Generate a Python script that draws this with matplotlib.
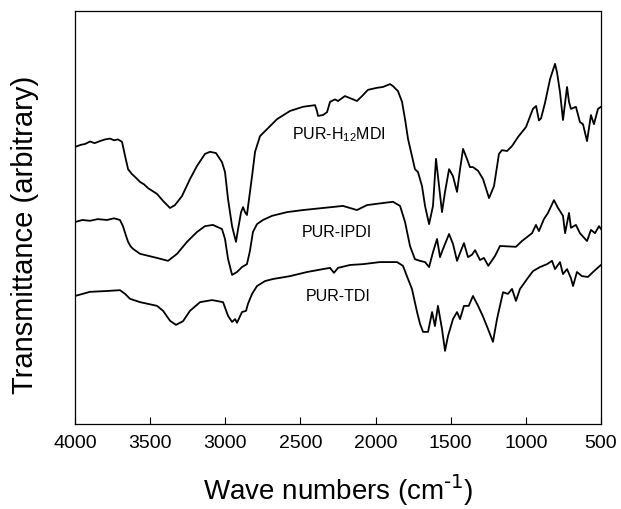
import matplotlib
matplotlib.use("Agg")
import matplotlib.pyplot as plt

plt.rcParams['font.family'] = ['Liberation Sans', 'DejaVu Sans']
plt.rcParams['mathtext.default'] = 'regular'

# PUR-H12MDI spectrum (wavenumber cm-1, transmittance arbitrary units)
h12mdi_wn = [4000, 3960, 3933, 3900, 3870, 3834, 3800, 3767, 3740, 3714, 3687, 3667, 3647, 3621,
             3600, 3567, 3540, 3514, 3454, 3414, 3368, 3335, 3288, 3235, 3188, 3135, 3102, 3062,
             3022, 3002, 2982, 2955, 2929, 2915, 2895, 2882, 2869, 2856, 2842, 2822, 2802, 2769,
             2722, 2656, 2569, 2483, 2403, 2390, 2383, 2350, 2323, 2303, 2270, 2250, 2204, 2150,
             2124, 2090, 2051, 1991, 1951, 1904, 1884, 1851, 1824, 1804, 1784, 1758, 1738, 1718,
             1691, 1671, 1644, 1618, 1598, 1585, 1558, 1538, 1511, 1485, 1458, 1438, 1418, 1392,
             1372, 1352, 1318, 1285, 1245, 1212, 1179, 1159, 1125, 1092, 1052, 999, 953, 932, 913,
             899, 873, 839, 806, 793, 773, 753, 726, 713, 700, 667, 640, 620, 593, 567, 547, 520, 500]
h12mdi_t = [67.1, 67.6, 67.8, 68.4, 68.0, 68.5, 68.9, 69.1, 68.7, 68.9, 68.3, 64.9, 61.7, 60.5,
            59.8, 58.6, 58.0, 57.1, 55.7, 54.0, 52.3, 53.0, 55.2, 59.3, 62.5, 65.4, 65.9, 65.6,
            63.4, 61.0, 54.5, 47.9, 44.1, 47.2, 51.3, 52.5, 51.3, 50.6, 54.5, 60.0, 65.9, 69.7,
            71.4, 73.8, 75.8, 76.8, 77.2, 75.8, 74.6, 74.8, 75.5, 78.0, 78.6, 78.2, 79.4, 78.6,
            78.2, 79.4, 80.9, 81.4, 81.6, 82.3, 81.8, 80.6, 78.0, 73.8, 69.0, 64.9, 61.7, 61.0,
            57.6, 52.8, 48.4, 52.8, 64.2, 60.0, 51.3, 56.2, 61.7, 60.0, 56.2, 61.7, 66.6, 64.2,
            62.2, 62.2, 61.3, 59.3, 54.7, 57.6, 65.4, 66.3, 66.1, 67.3, 69.5, 71.9, 76.3, 77.0, 73.5,
            74.0, 77.7, 83.5, 87.2, 85.2, 80.4, 73.6, 81.6, 78.0, 76.3, 76.8, 73.1, 72.6, 68.5, 74.8, 72.6, 76.3, 76.8]

# PUR-IPDI spectrum
ipdi_wn = [4000, 3950, 3900, 3850, 3787, 3740, 3701, 3681, 3660, 3647, 3630, 3614, 3567, 3454, 3381,
           3321, 3255, 3188, 3135, 3082, 3022, 3002, 2982, 2955, 2922, 2889, 2856, 2836, 2816,
           2789, 2749, 2689, 2589, 2483, 2350, 2217, 2124, 2057, 1951, 1884, 1837, 1804, 1771,
           1738, 1704, 1671, 1644, 1618, 1591, 1571, 1551, 1511, 1485, 1458, 1438, 1412, 1385,
           1358, 1338, 1305, 1279, 1250, 1205, 1172, 1066, 1026, 959, 933, 913, 880, 853, 813,
           786, 753, 739, 713, 700, 667, 640, 593, 567, 540, 513, 500]
ipdi_t = [48.9, 49.4, 49.2, 49.6, 49.4, 49.8, 49.4, 47.9, 45.5, 44.1, 43.0, 42.4, 41.2, 40.2, 39.5,
          41.2, 44.1, 46.5, 47.9, 48.2, 47.2, 44.8, 40.0, 36.1, 36.8, 38.0, 38.7, 41.9, 46.5,
          48.4, 49.4, 50.4, 51.3, 51.8, 52.3, 52.8, 51.8, 53.0, 53.5, 53.8, 52.8, 48.9, 43.1,
          39.9, 39.5, 39.2, 38.0, 41.6, 44.8, 40.4, 42.4, 46.0, 43.6, 39.5, 41.4, 43.8, 40.4,
          41.0, 42.1, 39.7, 40.2, 38.3, 40.7, 43.1, 42.9, 44.3, 46.2, 48.2, 46.7, 49.6, 51.1, 54.2,
          52.3, 50.4, 46.2, 51.1, 47.5, 48.2, 46.2, 44.3, 47.0, 46.2, 47.9, 47.2]

# PUR-TDI spectrum
tdi_wn = [4000, 3900, 3787, 3701, 3667, 3634, 3600, 3567, 3454, 3414, 3368, 3328, 3281, 3235,
          3168, 3088, 3015, 2982, 2955, 2935, 2922, 2889, 2862, 2849, 2822, 2789, 2736, 2683,
          2569, 2456, 2350, 2303, 2277, 2250, 2170, 2084, 1971, 1857, 1818, 1784, 1758, 1724,
          1704, 1684, 1651, 1624, 1605, 1585, 1558, 1538, 1518, 1485, 1458, 1438, 1412, 1380,
          1352, 1318, 1285, 1252, 1219, 1192, 1152, 1119, 1092, 1066, 1039, 992, 953, 906,
          859, 826, 806, 773, 753, 726, 700, 686, 660, 627, 587, 553, 507, 500]
tdi_t = [31.0, 32.0, 32.2, 32.4, 31.5, 30.3, 29.9, 29.5, 28.6, 27.4, 25.0, 24.0, 24.9, 27.4,
         29.5, 30.0, 29.5, 26.2, 24.7, 25.4, 24.5, 27.1, 27.4, 29.1, 31.5, 33.4, 34.6, 35.1,
         35.8, 36.8, 37.5, 37.8, 36.6, 37.8, 38.5, 38.7, 39.2, 39.2, 38.3, 35.1, 32.7, 27.1,
         24.2, 22.3, 22.3, 27.1, 23.7, 28.6, 23.0, 17.7, 21.3, 25.4, 27.1, 25.4, 28.6, 28.6,
         31.0, 28.6, 26.0, 23.0, 19.9, 25.4, 31.9, 31.5, 32.7, 29.8, 32.7, 35.1, 37.0, 38.0,
         38.7, 39.5, 37.5, 39.2, 36.3, 37.5, 35.3, 33.4, 36.8, 35.8, 35.6, 36.8, 38.3, 38.5]

labels = ["PUR-H$_{12}$MDI", "PUR-IPDI", "PUR-TDI"]
label_wn = [2243, 2257, 2250]
label_t = [70.2, 46.7, 31.0]

fig = plt.figure(figsize=(6.21, 5.10), dpi=100)
ax = fig.add_axes([0.1208, 0.1667, 0.847, 0.8098])

for wn, t in [(h12mdi_wn, h12mdi_t), (ipdi_wn, ipdi_t), (tdi_wn, tdi_t)]:
    ax.plot(wn, t, color='black', lw=1.3)

for lab, x, y in zip(labels, label_wn, label_t):
    ax.text(x, y, lab, ha='center', va='center', fontsize=11.5)

ax.set_xlim(4000, 500)
ax.set_ylim(0, 100)
ax.set_xticks([4000, 3500, 3000, 2500, 2000, 1500, 1000, 500])
ax.set_yticks([])
ax.tick_params(axis='x', direction='in', length=5, width=0.8, labelsize=14, pad=7)
for s in ax.spines.values():
    s.set_linewidth(0.9)

ax.set_xlabel(r"Wave numbers (cm$^{\text{-1}}$)", fontsize=20, labelpad=15)
ax.set_ylabel("Transmittance (arbitrary)", fontsize=21)
ax.yaxis.set_label_coords(-0.068, 0.46)

fig.savefig("out.png", dpi=100)
